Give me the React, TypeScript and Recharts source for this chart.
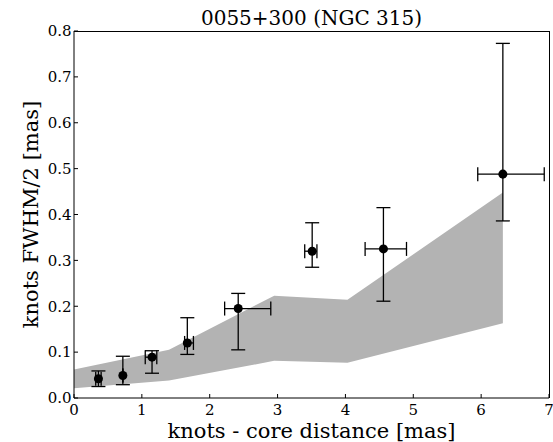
import React from 'react';
import { ComposedChart, Area, Scatter, ErrorBar, XAxis, YAxis, Label } from 'recharts';

// knots: distance from core and FWHM/2 (mas), with error bounds
const knotDist = [0.36, 0.72, 1.15, 1.67, 2.42, 3.51, 4.56, 6.32];
const knotDistLo = [0.32, 0.72, 1.05, 1.63, 2.22, 3.40, 4.29, 5.95];
const knotDistHi = [0.40, 0.72, 1.22, 1.76, 2.90, 3.58, 4.90, 6.93];
const knotSize = [0.042, 0.049, 0.089, 0.12, 0.195, 0.32, 0.325, 0.488];
const knotSizeLo = [0.025, 0.029, 0.054, 0.095, 0.105, 0.285, 0.211, 0.386];
const knotSizeHi = [0.059, 0.091, 0.103, 0.175, 0.228, 0.382, 0.415, 0.773];

// shaded region (lower / upper envelope)
const bandX = [0, 1.4, 2.95, 4.03, 6.32];
const bandLow = [0.021, 0.038, 0.081, 0.077, 0.163];
const bandHigh = [0.062, 0.105, 0.223, 0.214, 0.448];

const xTicks = [0, 1, 2, 3, 4, 5, 6, 7];
const yTicks = [0, 0.1, 0.2, 0.3, 0.4, 0.5, 0.6, 0.7, 0.8];

const FONT = '"DejaVu Serif", serif';
const TICK_LEN = 4;

const bandData = bandX.map((x, i) => ({ x, band: [bandLow[i], bandHigh[i]] }));

const knotData = knotDist.map((x, i) => ({
  x,
  y: knotSize[i],
  xErr: [x - knotDistLo[i], knotDistHi[i] - x],
  yErr: [knotSize[i] - knotSizeLo[i], knotSizeHi[i] - knotSize[i]],
}));

const tickStyle = { fontFamily: FONT, fontSize: 15, fill: '#000' };

const XLabel = (props: any) => {
  const vb = props.viewBox;
  return (
    <text x={vb.x + vb.width / 2} y={vb.y + 40} textAnchor="middle" fontFamily={FONT} fontSize={21} fill="#000">
      knots - core distance [mas]
    </text>
  );
};

const YLabel = (props: any) => {
  const vb = props.viewBox;
  const cx = vb.x + 38;
  const cy = vb.y + vb.height / 2;
  return (
    <text x={cx} y={cy} transform={`rotate(-90 ${cx} ${cy})`} textAnchor="middle" fontFamily={FONT} fontSize={21} fill="#000">
      knots FWHM/2 [mas]
    </text>
  );
};

export default function App() {
  return (
    <div style={{ position: 'absolute', left: 0, top: 0, width: 553, height: 442, background: '#fff' }}>
      <div
        style={{
          position: 'absolute',
          left: 74,
          width: 475,
          top: 6,
          textAlign: 'center',
          fontFamily: FONT,
          fontSize: 20,
          lineHeight: '24px',
          color: '#000',
        }}
      >
        0055+300 (NGC 315)
      </div>
      <ComposedChart
        width={553}
        height={442}
        data={bandData}
        margin={{ top: 31, right: 4, bottom: 0, left: 0 }}
      >
        <XAxis
          dataKey="x"
          type="number"
          domain={[0, 7]}
          ticks={xTicks}
          interval={0}
          height={44}
          stroke="#000"
          tickSize={-TICK_LEN}
          tickMargin={10}
          tick={tickStyle}
        >
          <Label content={XLabel} />
        </XAxis>
        <YAxis
          type="number"
          domain={[0, 0.8]}
          ticks={yTicks}
          interval={0}
          width={74}
          stroke="#000"
          tickSize={-TICK_LEN}
          tickMargin={6.5}
          tick={tickStyle}
          tickFormatter={(v: number) => v.toFixed(1)}
        >
          <Label content={YLabel} />
        </YAxis>
        <Area
          type="linear"
          dataKey="band"
          stroke="none"
          fill="#b3b3b3"
          fillOpacity={1}
          dot={false}
          activeDot={false}
          isAnimationActive={false}
        />
        <Scatter
          data={knotData}
          dataKey="y"
          fill="#000"
          shape="circle"
          isAnimationActive={false}
        >
          <ErrorBar dataKey="yErr" direction="y" width={7} stroke="#000" strokeWidth={1.3} />
          <ErrorBar dataKey="xErr" direction="x" width={7} stroke="#000" strokeWidth={1.3} />
        </Scatter>
      </ComposedChart>
      {/* top and right edges of the plot frame */}
      <div
        style={{
          position: 'absolute',
          left: 74,
          top: 31,
          width: 476,
          height: 367,
          boxSizing: 'border-box',
          borderTop: '1px solid #000',
          borderRight: '1px solid #000',
          pointerEvents: 'none',
        }}
      />
    </div>
  );
}
